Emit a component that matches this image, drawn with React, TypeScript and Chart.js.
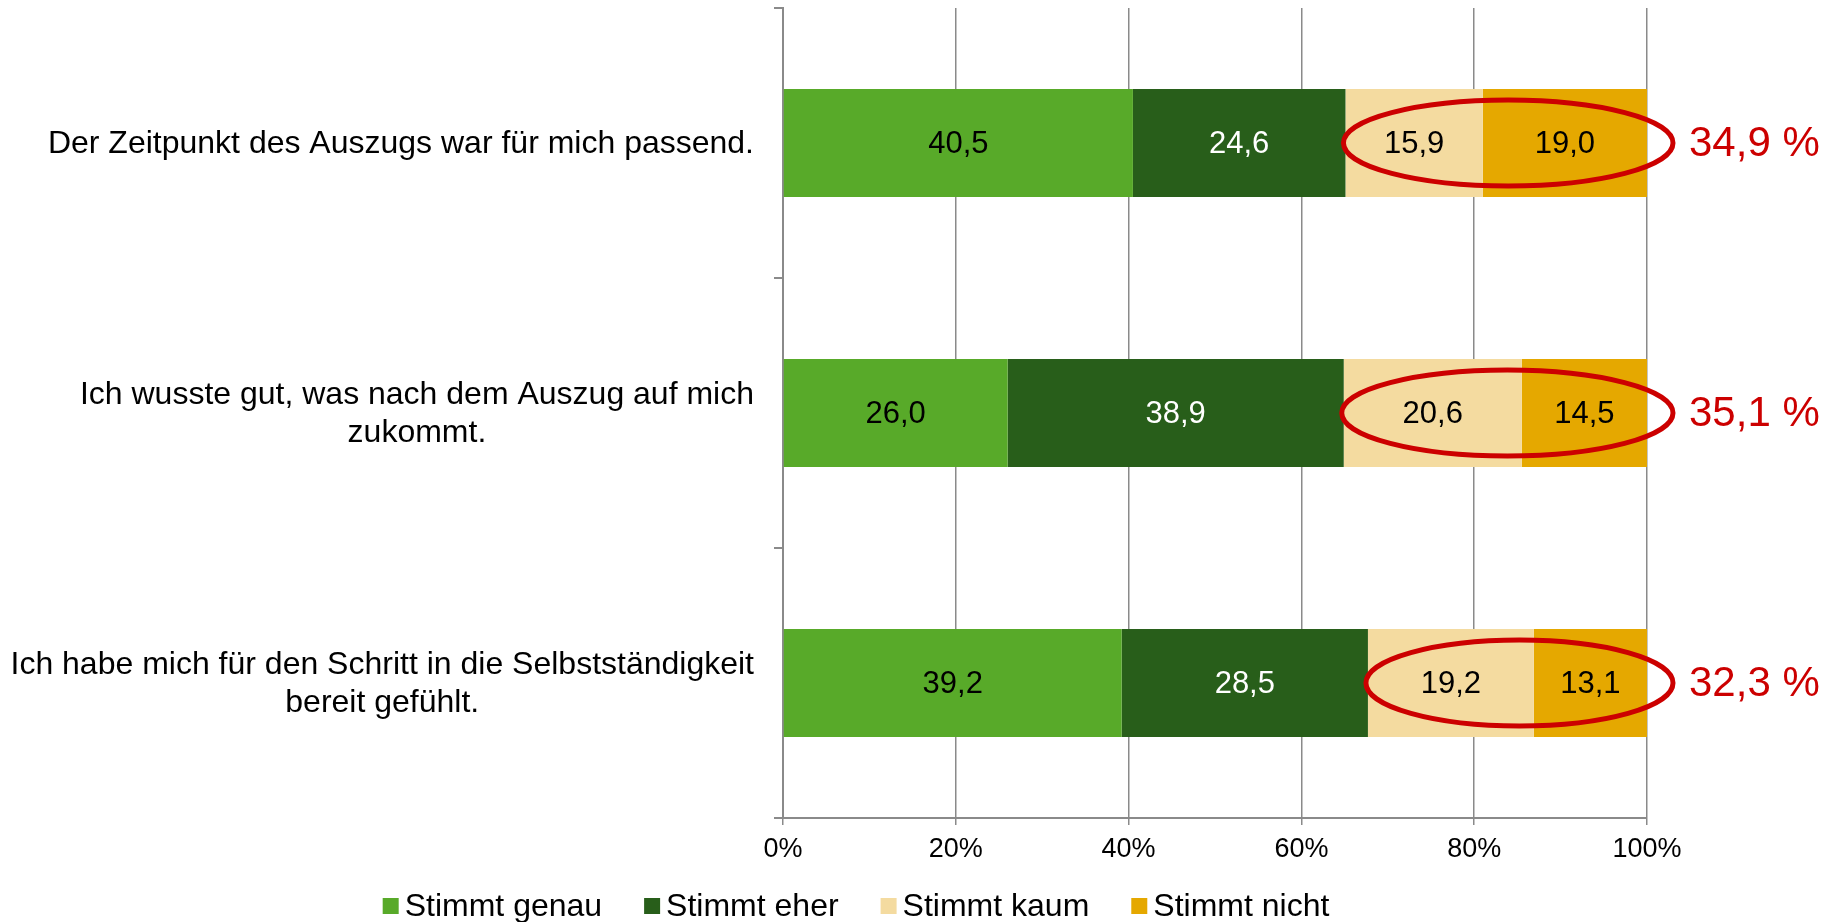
import React, { useEffect, useRef } from "react";
import { Chart, registerables } from "chart.js";

Chart.register(...registerables);

// ---- data ----
const categoryLines: string[][] = [
  ["Der Zeitpunkt des Auszugs war für mich passend."],
  ["Ich wusste gut, was nach dem Auszug auf mich", "zukommt."],
  ["Ich habe mich für den Schritt in die Selbstständigkeit", "bereit gefühlt."],
];
const seriesNames = ["Stimmt genau", "Stimmt eher", "Stimmt kaum", "Stimmt nicht"];
const stimmtGenau = [40.5, 26.0, 39.2];
const stimmtEher = [24.6, 38.9, 28.5];
const stimmtKaum = [15.9, 20.6, 19.2];
const stimmtNicht = [19.0, 14.5, 13.1];
const xTickStep = 20;

// ---- styles ----
const FONT = '"Liberation Sans", Arial, Helvetica, sans-serif';
const seriesColors = ["#58AA29", "#285E1A", "#F4DBA0", "#E5A800"];
const valueTextColors = ["#000000", "#FFFFFF", "#000000", "#000000"];
const GRID = "#8A8A8A";
const RED = "#CC0000";

const fmt = (v: number) => v.toFixed(1).replace(".", ",");

const overlayPlugin = {
  id: "overlay",
  afterDatasetsDraw(chart: any) {
    const ctx = chart.ctx as CanvasRenderingContext2D;
    const xs = chart.scales.x;
    const ys = chart.scales.y;
    ctx.save();
    // value labels inside bar segments
    ctx.font = `31px ${FONT}`;
    ctx.textAlign = "center";
    ctx.textBaseline = "middle";
    chart.data.datasets.forEach((ds: any, di: number) => {
      const meta = chart.getDatasetMeta(di);
      meta.data.forEach((bar: any, i: number) => {
        const p = bar.getProps(["x", "y", "base"], true);
        ctx.fillStyle = valueTextColors[di];
        ctx.fillText(fmt(ds.data[i]), (p.x + p.base) / 2, p.y + 1);
      });
    });
    // red ellipses around "kaum" + "nicht"
    ctx.strokeStyle = RED;
    ctx.lineWidth = 5;
    categoryLines.forEach((_, i) => {
      const left = xs.getPixelForValue(stimmtGenau[i] + stimmtEher[i]) - 2;
      const right = xs.getPixelForValue(100) + 26;
      const cy = ys.getPixelForValue(i);
      ctx.beginPath();
      ctx.ellipse((left + right) / 2, cy, (right - left) / 2, 43, 0, 0, Math.PI * 2);
      ctx.stroke();
    });
    // red totals on the right
    ctx.font = `42px ${FONT}`;
    ctx.textAlign = "left";
    ctx.fillStyle = RED;
    categoryLines.forEach((_, i) => {
      const total = stimmtKaum[i] + stimmtNicht[i];
      ctx.fillText(fmt(total) + " %", xs.getPixelForValue(100) + 42, ys.getPixelForValue(i) + 1);
    });
    ctx.restore();
  },
  afterDraw(chart: any) {
    const ctx = chart.ctx as CanvasRenderingContext2D;
    const ys = chart.scales.y;
    ctx.save();
    // category labels (multi-line, block right-aligned, lines centered)
    ctx.font = `32px ${FONT}`;
    ctx.fillStyle = "#000000";
    ctx.textAlign = "center";
    ctx.textBaseline = "middle";
    const rightEdge = chart.chartArea.left - 29;
    const lh = 38;
    categoryLines.forEach((lines, i) => {
      const maxW = Math.max(...lines.map((l) => ctx.measureText(l).width));
      const cx = rightEdge - maxW / 2;
      const cy = ys.getPixelForValue(i);
      lines.forEach((l, j) => {
        ctx.fillText(l, cx, cy + (j - (lines.length - 1) / 2) * lh + 1);
      });
    });
    // legend
    const box = 16;
    const gapText = 6;
    const itemGap = 42;
    const widths = chart.data.datasets.map((d: any) => box + gapText + ctx.measureText(d.label).width);
    const total = widths.reduce((a: number, b: number) => a + b, 0) + itemGap * (widths.length - 1);
    let x = 856 - total / 2;
    const y = 906;
    ctx.textAlign = "left";
    chart.data.datasets.forEach((d: any, i: number) => {
      ctx.fillStyle = d.backgroundColor;
      ctx.fillRect(x, y - box / 2, box, box);
      ctx.fillStyle = "#000000";
      ctx.fillText(d.label, x + box + gapText, y + 1);
      x += widths[i] + itemGap;
    });
    ctx.restore();
  },
};

export default function App() {
  const ref = useRef<HTMLCanvasElement | null>(null);
  useEffect(() => {
    document.body.style.margin = "0";
    if (!ref.current) return;
    const seriesData = [stimmtGenau, stimmtEher, stimmtKaum, stimmtNicht];
    const chart = new Chart(ref.current, {
      type: "bar",
      data: {
        labels: categoryLines.map((l) => l.join(" ")),
        datasets: seriesNames.map((name, i) => ({
          label: name,
          data: seriesData[i],
          backgroundColor: seriesColors[i],
          borderWidth: 0,
          categoryPercentage: 1,
          barPercentage: 0.4,
        })),
      },
      options: {
        indexAxis: "y",
        responsive: false,
        maintainAspectRatio: false,
        animation: false,
        layout: { padding: { top: 8, right: 198, left: 0, bottom: 0 } },
        plugins: { legend: { display: false }, tooltip: { enabled: false } },
        scales: {
          x: {
            stacked: true,
            min: 0,
            max: 100,
            ticks: {
              stepSize: xTickStep,
              callback: (v: any) => v + "%",
              font: { family: FONT, size: 27 },
              color: "#000000",
              padding: 8,
            },
            grid: { color: GRID, lineWidth: 1.5, tickLength: 7, drawTicks: true },
            border: { color: GRID, width: 2 },
            afterFit: (s: any) => {
              s.height = 104;
            },
          },
          y: {
            stacked: true,
            ticks: { display: false },
            grid: { offset: true, drawOnChartArea: false, color: GRID, lineWidth: 2, tickLength: 9 },
            border: { color: GRID, width: 2 },
            afterFit: (s: any) => {
              s.width = 783;
            },
          },
        },
      } as any,
      plugins: [overlayPlugin],
    });
    return () => chart.destroy();
  }, []);
  return (
    <div style={{ width: 1845, height: 922, background: "#fff" }}>
      <canvas ref={ref} width={1845} height={922} style={{ display: "block" }} />
    </div>
  );
}
